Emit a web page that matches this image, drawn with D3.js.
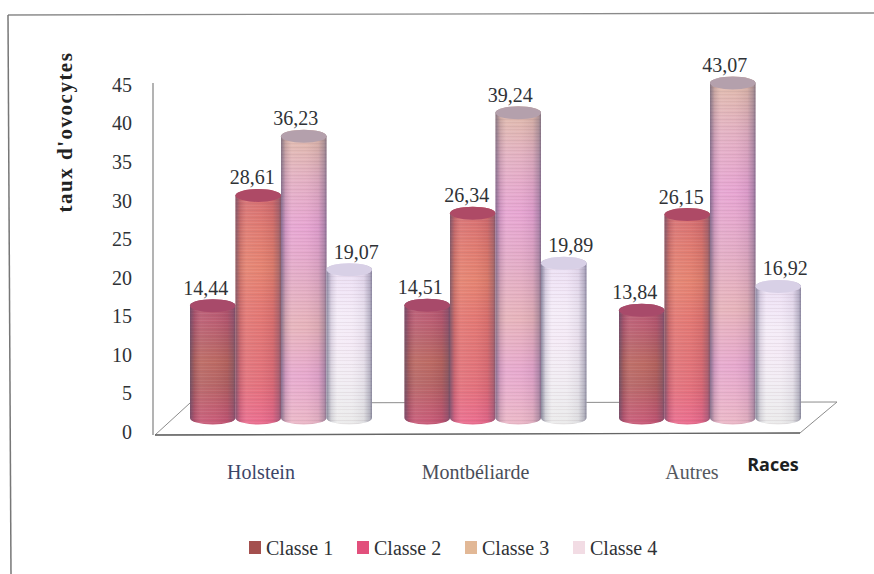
<!DOCTYPE html>
<html lang="fr">
<head>
<meta charset="utf-8">
<title>Taux d'ovocytes par race</title>
<script src="https://cdn.jsdelivr.net/npm/d3@7/dist/d3.min.js"></script>
<style>
  html, body { margin: 0; padding: 0; background: #fff; }
  svg { display: block; }
  text { font-family: "Liberation Serif", serif; fill: #2f3236; }
</style>
</head>
<body>
<svg id="chart" width="874" height="574"></svg>
<script>
const races = ["Holstein", "Montbéliarde", "Autres"];
const classes = ["Classe 1", "Classe 2", "Classe 3", "Classe 4"];
const classe1 = [14.44, 14.51, 13.84];
const classe2 = [28.61, 26.34, 26.15];
const classe3 = [36.23, 39.24, 43.07];
const classe4 = [19.07, 19.89, 16.92];
const seriesValues = [classe1, classe2, classe3, classe4];
const yTicks = [0, 5, 10, 15, 20, 25, 30, 35, 40, 45];

// Body colours of each class, from the top of a cylinder to its foot.
const bodyStops = [
  ["#b04c68", "#b8546a", "#b45a62", "#b86058", "#b25c5c", "#bc5666", "#c65070"],
  ["#d2646a", "#de7268", "#e47c68", "#e2706a", "#e06c6e", "#e26874", "#ea6488"],
  ["#deb8a4", "#e2acc0", "#e6a0d0", "#e2a8c4", "#e6b0b8", "#e6a4cc", "#eab4c4"],
  ["#e8dcf2", "#f0e4f6", "#f4ecf8", "#f4eaf6", "#f2ecf4", "#eeecf0", "#eaeaea"]
];
const capColours = ["#a84a6a", "#ae4a66", "#b4a0ac", "#d8d0e6"];
const legendColours = ["#a4504e", "#e2507c", "#e2b896", "#f2dce4"];
const labelShift = [-7, -6, -8, 7];

const svg = d3.select("#chart");
const defs = svg.append("defs");

const fmt = v => v.toFixed(2).replace(".", ",");

// Page frame, only the top and left rules are present.
svg.append("line").attr("x1", 8).attr("y1", 15).attr("x2", 874).attr("y2", 13)
  .attr("stroke", "#8a8a8a").attr("stroke-width", 1.3);
svg.append("line").attr("x1", 8).attr("y1", 15).attr("x2", 11).attr("y2", 574)
  .attr("stroke", "#777").attr("stroke-width", 1.5);

// Scales: the axis runs along the front of the floor, columns stand further back.
const yAxisScale = d3.scaleLinear().domain([0, 45]).range([432, 85]);
const yBar = d3.scaleLinear().domain([0, 45]).range([418, 68]);
const xGroup = d3.scalePoint().domain(races).range([281, 710]);
const xClass = d3.scaleBand().domain(classes).range([-91, 91]).paddingInner(0);
const rx = xClass.bandwidth() / 2;
const ry = 6.5;

// Floor of the plot.
const floor = [[155, 435], [800, 433], [837, 402], [190, 403]];
svg.append("path")
  .attr("d", d3.line()(floor) + "Z")
  .attr("fill", "#fff").attr("stroke", "#8c8c8c").attr("stroke-width", 1);
svg.append("line")
  .attr("x1", floor[0][0]).attr("y1", floor[0][1])
  .attr("x2", floor[1][0]).attr("y2", floor[1][1])
  .attr("stroke", "#666").attr("stroke-width", 1.4);

// Vertical axis.
const yAxis = d3.axisLeft(yAxisScale).tickValues(yTicks).tickSize(0).tickPadding(21);
const gAxis = svg.append("g").attr("transform", "translate(153,0)").call(yAxis);
gAxis.select(".domain").attr("stroke", "#8a8a8a").attr("stroke-width", 1.3)
  .attr("d", "M0,83V435");
gAxis.selectAll("text").attr("font-size", 20).attr("font-family", "Liberation Serif");

// Gradients and the fine scan-line banding on the cylinders.
classes.forEach((c, i) => {
  const g = defs.append("linearGradient").attr("id", "body" + i)
    .attr("x1", 0).attr("y1", 0).attr("x2", 0).attr("y2", 1);
  bodyStops[i].forEach((col, k) => {
    g.append("stop").attr("offset", k / (bodyStops[i].length - 1)).attr("stop-color", col);
  });
});
const shade = defs.append("linearGradient").attr("id", "shade")
  .attr("x1", 0).attr("y1", 0).attr("x2", 1).attr("y2", 0);
[[0, "#4a4a68", 0.6], [0.1, "#4a4a68", 0.16], [0.24, "#fff", 0.1], [0.55, "#fff", 0.06],
 [0.82, "#4a4a68", 0.08], [0.95, "#4a4a68", 0.34], [1, "#4a4a68", 0.62]]
  .forEach(([o, col, a]) => shade.append("stop").attr("offset", o)
    .attr("stop-color", col).attr("stop-opacity", a));
const bands = defs.append("pattern").attr("id", "bands")
  .attr("patternUnits", "userSpaceOnUse").attr("width", 8).attr("height", 7);
[[0, 0.10, "#7a5560"], [2, 0.06, "#fff"], [3, 0.08, "#7a5560"], [5, 0.07, "#fff"]]
  .forEach(([y, a, col]) => bands.append("rect").attr("y", y).attr("width", 8).attr("height", 1)
    .attr("fill", col).attr("fill-opacity", a));

// Cylinders.
races.forEach((race, r) => {
  const cx0 = xGroup(race);
  const g = svg.append("g").attr("class", "groupe");
  classes.forEach((c, i) => {
    const v = seriesValues[i][r];
    const cx = cx0 + xClass(c) + rx;
    const top = yBar(v);
    const base = yBar(0);
    const body = `M${cx - rx},${top}V${base}A${rx},${ry} 0 0 0 ${cx + rx},${base}V${top}` +
                 `A${rx},${ry} 0 0 0 ${cx - rx},${top}Z`;
    g.append("path").attr("d", body).attr("fill", `url(#body${i})`);
    g.append("path").attr("d", body).attr("fill", "url(#bands)");
    g.append("path").attr("d", body).attr("fill", "url(#shade)");
    g.append("ellipse").attr("cx", cx).attr("cy", top).attr("rx", rx).attr("ry", ry)
      .attr("fill", capColours[i]);
  });
  classes.forEach((c, i) => {
    const v = seriesValues[i][r];
    g.append("text")
      .attr("x", cx0 + xClass(c) + rx + labelShift[i])
      .attr("y", yBar(v) - 18)
      .attr("dy", "0.35em")
      .attr("text-anchor", "middle")
      .attr("font-size", 20)
      .text(fmt(v));
  });
});

// Category names, sitting left of their groups as on the floor's perspective.
svg.selectAll("text.race").data(races).join("text")
  .attr("class", "race")
  .attr("x", (d, i) => xGroup(d) - 20 + (i === 2 ? 2 : 0))
  .attr("y", 472)
  .attr("dy", "0.35em")
  .attr("text-anchor", "middle")
  .attr("font-size", 20)
  .style("fill", (d, i) => ["#3c4668", "#4a4e58", "#55585e"][i])
  .text(d => d);

svg.append("text")
  .attr("x", 773).attr("y", 465).attr("dy", "0.35em")
  .attr("text-anchor", "middle")
  .attr("font-size", 18)
  .attr("font-weight", 700)
  .style("font-family", '"Open Sans", sans-serif')
  .style("fill", "#1c1f22")
  .text("Races");

svg.append("text")
  .attr("transform", "translate(65,132) rotate(-90)")
  .attr("dy", "0.35em")
  .attr("text-anchor", "middle")
  .attr("font-size", 21)
  .attr("font-weight", 700)
  .style("letter-spacing", "1.5px")
  .style("fill", "#222")
  .text("taux d'ovocytes");

// Legend.
const legendX = d3.scalePoint().domain(classes).range([249, 573]);
const legend = svg.selectAll("g.legende").data(classes).join("g")
  .attr("class", "legende")
  .attr("transform", d => `translate(${legendX(d)},541)`);
legend.append("rect").attr("width", 12).attr("height", 13)
  .attr("fill", (d, i) => legendColours[i]);
legend.append("text").attr("x", 17).attr("y", 6.5).attr("dy", "0.35em")
  .attr("font-size", 20).text(d => d);
</script>
</body>
</html>
